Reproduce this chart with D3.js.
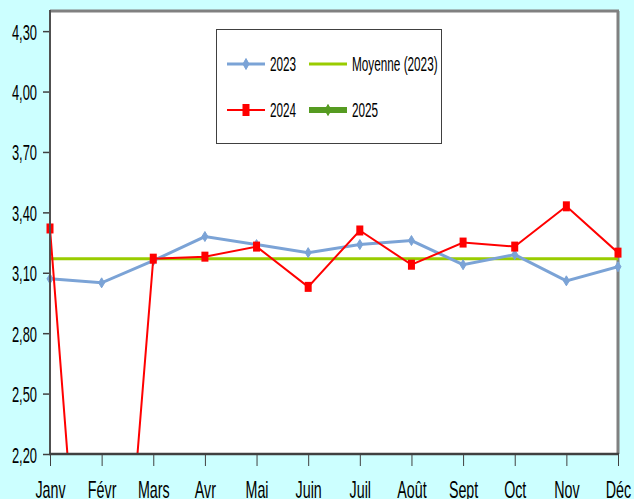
<!DOCTYPE html>
<html>
<head>
<meta charset="utf-8">
<script src="https://cdn.jsdelivr.net/npm/d3@7"></script>
<style>
html,body{margin:0;padding:0;background:#ccffff;}
svg{display:block;}
</style>
</head>
<body>
<script>
const months = ["Janv","Févr","Mars","Avr","Mai","Juin","Juil","Août","Sept","Oct","Nov","Déc"];
const values2023 = [3.07,3.05,3.16,3.28,3.24,3.20,3.24,3.26,3.14,3.19,3.06,3.13];
const values2024 = [3.32,0,3.17,3.18,3.23,3.03,3.31,3.14,3.25,3.23,3.43,3.20];
const moyenne2023 = 3.17;
const yTicks = [2.2,2.5,2.8,3.1,3.4,3.7,4.0,4.3];
const yDomain = [2.2,4.4];

(function(){
const W = 634, H = 499;
const pL = 50, pR = 618, pT = 11, pB = 454;
const FONT = "'Liberation Sans', Arial, sans-serif";
const blue = "#7ba3d6", red = "#ff0000", lime = "#99cc00", green25 = "#569b21";

const svg = d3.select("body").append("svg").attr("width", W).attr("height", H);
svg.append("rect").attr("width", W).attr("height", H).attr("fill", "#ccffff");

const x = d3.scalePoint().domain(months).range([pL, pR]);
const y = d3.scaleLinear().domain(yDomain).range([pB, pT]);

svg.append("rect").attr("x", pL).attr("y", pT).attr("width", pR-pL).attr("height", pB-pT).attr("fill", "#fff");
svg.append("line").attr("x1", pL).attr("x2", pR+1).attr("y1", pT).attr("y2", pT).attr("stroke", "#808080").attr("stroke-width", 3);
svg.append("line").attr("x1", pR).attr("x2", pR).attr("y1", pT).attr("y2", pB).attr("stroke", "#808080").attr("stroke-width", 3);

svg.append("defs").append("clipPath").attr("id", "clip")
  .append("rect").attr("x", pL).attr("y", pT).attr("width", pR-pL).attr("height", pB-pT);

svg.append("line").attr("x1", pL).attr("x2", pR).attr("y1", y(moyenne2023)).attr("y2", y(moyenne2023))
  .attr("stroke", lime).attr("stroke-width", 3);

const line = d3.line().x((d,i)=>x(months[i])).y(d=>y(d));

svg.append("path").datum(values2023).attr("d", line).attr("fill", "none")
  .attr("stroke", blue).attr("stroke-width", 3).attr("clip-path", "url(#clip)");
function diamond(g, cx, cy, col, w, h){
  g.append("path").attr("d", `M${cx},${cy-h/2}L${cx+w/2},${cy}L${cx},${cy+h/2}L${cx-w/2},${cy}Z`)
    .attr("fill", col).attr("stroke", col).attr("stroke-width", 1);
}
const gm23 = svg.append("g");
values2023.forEach((v,i)=>{ if(v>=yDomain[0] && v<=yDomain[1]) diamond(gm23, x(months[i]), y(v), blue, 6, 10); });

svg.append("path").datum(values2024).attr("d", line).attr("fill", "none")
  .attr("stroke", red).attr("stroke-width", 2).attr("clip-path", "url(#clip)");
const gm24 = svg.append("g");
values2024.forEach((v,i)=>{
  if(v>=yDomain[0] && v<=yDomain[1])
    gm24.append("rect").attr("x", x(months[i])-3.5).attr("y", y(v)-5).attr("width", 7).attr("height", 10).attr("fill", red);
});

const yAxis = svg.append("g").attr("transform", `translate(${pL},0)`)
  .call(d3.axisLeft(y).tickValues(yTicks).tickSize(7).tickFormat(d=>d3.format(".2f")(d).replace(".", ",")));
yAxis.select(".domain").remove();
yAxis.selectAll(".tick line").attr("stroke", "#404040").attr("stroke-width", 1.5);
yAxis.selectAll(".tick text").each(function(){
  d3.select(this).attr("x", null).attr("dy", null).attr("y", null)
   .attr("transform", "translate(-13,8) scale(0.86,1.45)")
   .attr("font-family", FONT).attr("font-size", 15).attr("fill", "#000").attr("text-anchor", "end");
});
svg.append("line").attr("x1", pL).attr("x2", pL).attr("y1", pT-1).attr("y2", pB).attr("stroke", "#505050").attr("stroke-width", 2);

const xAxis = svg.append("g").attr("transform", `translate(0,${pB})`)
  .call(d3.axisBottom(x).tickSize(12).tickSizeOuter(0));
xAxis.select(".domain").remove();
xAxis.selectAll(".tick line").attr("stroke", "#404040").attr("stroke-width", 1);
xAxis.selectAll(".tick text").each(function(){
  d3.select(this).attr("x", null).attr("dy", null).attr("y", null)
   .attr("transform", "translate(0,44) scale(0.84,1.4)")
   .attr("font-family", FONT).attr("font-size", 17).attr("fill", "#000").attr("text-anchor", "middle");
});
svg.append("line").attr("x1", pL-1).attr("x2", pR+1).attr("y1", pB).attr("y2", pB).attr("stroke", "#404040").attr("stroke-width", 2.5);

const lg = svg.append("g");
lg.append("rect").attr("x", 216.5).attr("y", 29.5).attr("width", 225).attr("height", 114)
  .attr("fill", "#fff").attr("stroke", "#404040").attr("stroke-width", 1);
const legendItems = [
  {name:"2023", col: blue, w:3, mark:"diamond", lx:227, ly:64},
  {name:"Moyenne (2023)", col: lime, w:3, mark:null, lx:309, ly:64},
  {name:"2024", col: red, w:2, mark:"square", lx:227, ly:110},
  {name:"2025", col: green25, w:6, mark:"diamond", lx:309, ly:110}
];
legendItems.forEach(it=>{
  lg.append("line").attr("x1", it.lx).attr("x2", it.lx+38).attr("y1", it.ly).attr("y2", it.ly)
    .attr("stroke", it.col).attr("stroke-width", it.w);
  if(it.mark==="diamond") diamond(lg, it.lx+19, it.ly, it.col, 6, 11);
  if(it.mark==="square") lg.append("rect").attr("x", it.lx+19-3.5).attr("y", it.ly-6).attr("width", 7).attr("height", 12).attr("fill", it.col);
  lg.append("text").attr("transform", `translate(${it.lx+43},${it.ly+7}) scale(0.84,1.4)`)
    .attr("font-family", FONT).attr("font-size", 14).attr("fill", "#000").text(it.name);
});
})();
</script>
</body>
</html>
